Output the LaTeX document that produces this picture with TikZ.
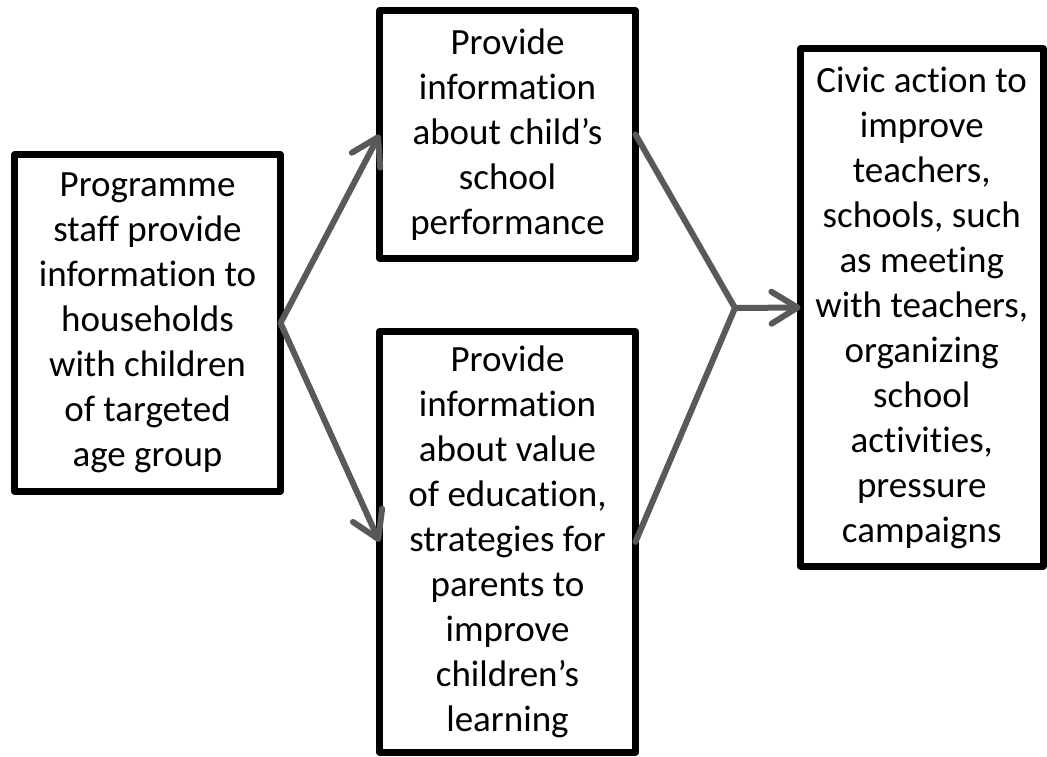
\documentclass[tikz,border=0pt]{standalone}
\usepackage{fontspec}
\setmainfont{Carlito}[Ligatures={NoCommon}]
\usetikzlibrary{arrows.meta}
\definecolor{arrowgray}{HTML}{595959}
\tikzset{
  box/.style={draw=black, line width=7pt, line join=round, fill=white,
    inner sep=0pt, outer sep=0pt, align=center,
    font=\fontsize{37}{45}\selectfont},
  link/.style={draw=arrowgray, line width=6pt, line cap=round, line join=round},
  arr/.style={link, -{Straight Barb[length=26pt, width=32pt, line width=6pt, round]}}
}
\begin{document}
\begin{tikzpicture}[x=1pt, y=-1pt]
\useasboundingbox (0,0) rectangle (1047,757);
\node[box, minimum width=266pt, minimum height=336pt] (src) at (147.5,323)
  {Programme\\staff provide\\information to\\households\\with children\\of targeted\\age group};
\node[box, minimum width=256pt, minimum height=247pt] (perf) at (507.5,134.5)
  {Provide\\information\\about child’s\\school\\performance};
\node[box, minimum width=256pt, minimum height=420.5pt] (value) at (507.5,541.75)
  {Provide\\information\\about value\\of education,\\strategies for\\parents to\\improve\\children’s\\learning};
\node[box, minimum width=242.5pt, minimum height=517pt] (civic) at (921.75,307.5)
  {Civic action to\\improve\\teachers,\\schools, such\\as meeting\\with teachers,\\organizing\\school\\activities,\\pressure\\campaigns};
\coordinate (j) at (735,308);
\draw[arr] (src.east) -- (perf.west);
\draw[arr] (src.east) -- (value.west);
\draw[link] (perf.east) -- (j) -- (value.east);
\draw[arr] (j) -- (civic.west);
\end{tikzpicture}
\end{document}
